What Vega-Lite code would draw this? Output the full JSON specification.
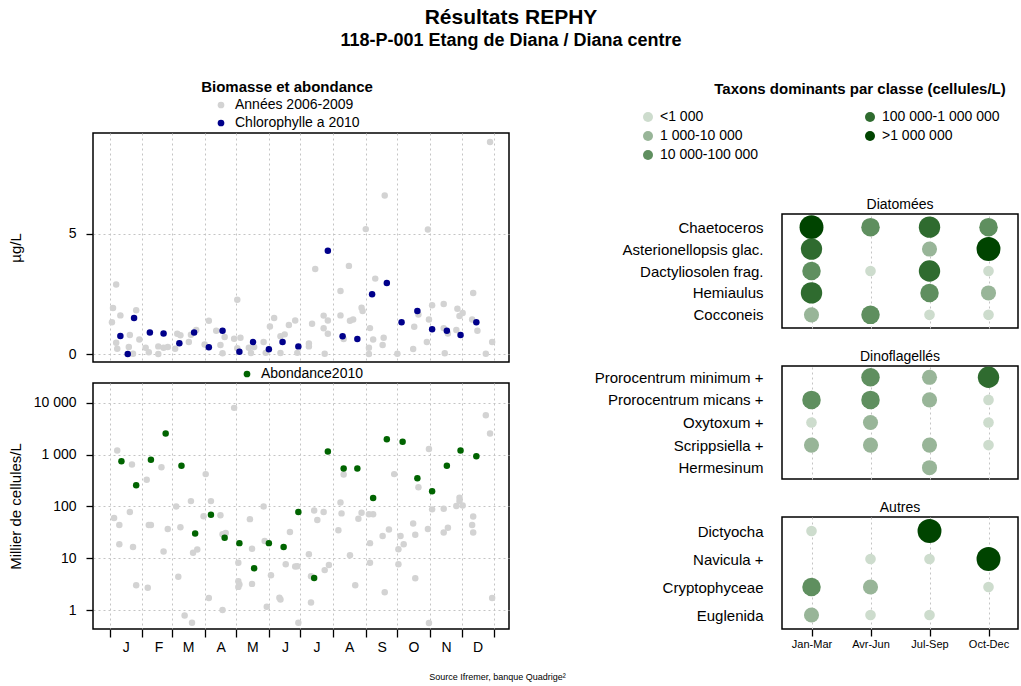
{
"$schema": "https://vega.github.io/schema/vega-lite/v6.json",
"background": "white",
"padding": {"left": 7, "top": 7, "right": 2, "bottom": 2},
"config": {
 "font": "Liberation Sans",
 "view": {"stroke": "black", "strokeWidth": 1.5},
 "axis": {"domain": false, "gridColor": "#c4c4c4", "gridDash": [2,3], "gridWidth": 1, "tickColor": "black", "tickWidth": 1.3, "labelColor": "black", "titleColor": "black", "labelFont": "Liberation Sans", "titleFont": "Liberation Sans", "titleFontWeight": "normal", "labelFontSize": 14, "titleFontSize": 15},
 "legend": {"labelFont": "Liberation Sans", "labelColor": "black", "labelFontSize": 14, "padding": 0},
 "title": {"font": "Liberation Sans", "color": "black", "subtitleFont": "Liberation Sans", "subtitleColor": "black"}
},
"datasets": {
 "chl": [
  {"j":6,"v":2.9,"s":"Années 2006-2009"},{"j":3,"v":1.92,"s":"Années 2006-2009"},{"j":2,"v":1.32,"s":"Années 2006-2009"},{"j":10,"v":1.61,"s":"Années 2006-2009"},{"j":6,"v":0.47,"s":"Années 2006-2009"},{"j":7,"v":0.22,"s":"Années 2006-2009"},{"j":18,"v":0.29,"s":"Années 2006-2009"},{"j":19,"v":0.79,"s":"Années 2006-2009"},{"j":22,"v":0.01,"s":"Années 2006-2009"},{"j":25,"v":1.82,"s":"Années 2006-2009"},{"j":28,"v":0.61,"s":"Années 2006-2009"},{"j":34,"v":0.26,"s":"Années 2006-2009"},{"j":37,"v":0.08,"s":"Années 2006-2009"},{"j":46,"v":0.32,"s":"Années 2006-2009"},{"j":46,"v":0,"s":"Années 2006-2009"},{"j":51,"v":0.26,"s":"Années 2006-2009"},{"j":55,"v":0.29,"s":"Années 2006-2009"},{"j":62,"v":0.22,"s":"Années 2006-2009"},{"j":64,"v":0.85,"s":"Années 2006-2009"},{"j":67,"v":0.78,"s":"Années 2006-2009"},{"j":75,"v":0.5,"s":"Années 2006-2009"},{"j":77,"v":0.8,"s":"Années 2006-2009"},{"j":82,"v":1.0,"s":"Années 2006-2009"},{"j":90,"v":0.4,"s":"Années 2006-2009"},{"j":94,"v":1.39,"s":"Années 2006-2009"},{"j":101,"v":0.97,"s":"Années 2006-2009"},{"j":105,"v":0.38,"s":"Années 2006-2009"},{"j":107,"v":0.03,"s":"Années 2006-2009"},{"j":109,"v":0.71,"s":"Années 2006-2009"},{"j":118,"v":0.64,"s":"Années 2006-2009"},{"j":121,"v":2.26,"s":"Années 2006-2009"},{"j":124,"v":0.68,"s":"Années 2006-2009"},{"j":121,"v":0.24,"s":"Années 2006-2009"},{"j":132,"v":0.26,"s":"Années 2006-2009"},{"j":134,"v":0.04,"s":"Années 2006-2009"},{"j":137,"v":0.29,"s":"Années 2006-2009"},{"j":146,"v":0.5,"s":"Années 2006-2009"},{"j":148,"v":0.05,"s":"Années 2006-2009"},{"j":152,"v":1.15,"s":"Années 2006-2009"},{"j":156,"v":1.5,"s":"Années 2006-2009"},{"j":162,"v":0.74,"s":"Années 2006-2009"},{"j":166,"v":0.82,"s":"Années 2006-2009"},{"j":162,"v":0.04,"s":"Années 2006-2009"},{"j":170,"v":1.21,"s":"Années 2006-2009"},{"j":176,"v":1.4,"s":"Années 2006-2009"},{"j":178,"v":0.05,"s":"Années 2006-2009"},{"j":189,"v":0.44,"s":"Années 2006-2009"},{"j":189,"v":0.32,"s":"Années 2006-2009"},{"j":192,"v":1.26,"s":"Années 2006-2009"},{"j":195,"v":3.54,"s":"Années 2006-2009"},{"j":203,"v":1.6,"s":"Années 2006-2009"},{"j":207,"v":1.4,"s":"Années 2006-2009"},{"j":203,"v":1.07,"s":"Années 2006-2009"},{"j":207,"v":0.85,"s":"Années 2006-2009"},{"j":204,"v":0.01,"s":"Années 2006-2009"},{"j":219,"v":2.62,"s":"Années 2006-2009"},{"j":219,"v":1.61,"s":"Années 2006-2009"},{"j":222,"v":0.63,"s":"Années 2006-2009"},{"j":228,"v":1.39,"s":"Années 2006-2009"},{"j":227,"v":3.67,"s":"Années 2006-2009"},{"j":231,"v":1.44,"s":"Années 2006-2009"},{"j":239,"v":1.93,"s":"Années 2006-2009"},{"j":240,"v":1.79,"s":"Années 2006-2009"},{"j":243,"v":5.2,"s":"Années 2006-2009"},{"j":247,"v":1.08,"s":"Années 2006-2009"},{"j":246,"v":0.26,"s":"Années 2006-2009"},{"j":246,"v":0,"s":"Années 2006-2009"},{"j":250,"v":0.61,"s":"Années 2006-2009"},{"j":252,"v":3.14,"s":"Années 2006-2009"},{"j":260,"v":0.68,"s":"Années 2006-2009"},{"j":259,"v":0.38,"s":"Années 2006-2009"},{"j":261,"v":6.6,"s":"Années 2006-2009"},{"j":273,"v":0.01,"s":"Années 2006-2009"},{"j":288,"v":0.21,"s":"Années 2006-2009"},{"j":289,"v":1.14,"s":"Années 2006-2009"},{"j":293,"v":1.65,"s":"Années 2006-2009"},{"j":302,"v":5.18,"s":"Années 2006-2009"},{"j":303,"v":1.44,"s":"Années 2006-2009"},{"j":301,"v":0.5,"s":"Années 2006-2009"},{"j":306,"v":2.03,"s":"Années 2006-2009"},{"j":317,"v":2.08,"s":"Années 2006-2009"},{"j":317,"v":1.08,"s":"Années 2006-2009"},{"j":321,"v":0.86,"s":"Années 2006-2009"},{"j":318,"v":0.03,"s":"Années 2006-2009"},{"j":330,"v":1.89,"s":"Années 2006-2009"},{"j":332,"v":1.58,"s":"Années 2006-2009"},{"j":335,"v":1.71,"s":"Années 2006-2009"},{"j":329,"v":1.0,"s":"Années 2006-2009"},{"j":345,"v":2.54,"s":"Années 2006-2009"},{"j":344,"v":1.44,"s":"Années 2006-2009"},{"j":349,"v":0.97,"s":"Années 2006-2009"},{"j":357,"v":0.01,"s":"Années 2006-2009"},{"j":361,"v":8.83,"s":"Années 2006-2009"},{"j":363,"v":0.5,"s":"Années 2006-2009"},
  {"j":10,"v":0.75,"s":"Chlorophylle a 2010"},{"j":17,"v":0.0,"s":"Chlorophylle a 2010"},{"j":23,"v":1.5,"s":"Chlorophylle a 2010"},{"j":38,"v":0.9,"s":"Chlorophylle a 2010"},{"j":51,"v":0.86,"s":"Chlorophylle a 2010"},{"j":66,"v":0.45,"s":"Chlorophylle a 2010"},{"j":80,"v":0.9,"s":"Chlorophylle a 2010"},{"j":94,"v":0.28,"s":"Chlorophylle a 2010"},{"j":107,"v":0.97,"s":"Chlorophylle a 2010"},{"j":123,"v":0.1,"s":"Chlorophylle a 2010"},{"j":136,"v":0.5,"s":"Chlorophylle a 2010"},{"j":151,"v":0.2,"s":"Chlorophylle a 2010"},{"j":164,"v":0.5,"s":"Chlorophylle a 2010"},{"j":179,"v":0.32,"s":"Chlorophylle a 2010"},{"j":207,"v":4.3,"s":"Chlorophylle a 2010"},{"j":221,"v":0.74,"s":"Chlorophylle a 2010"},{"j":235,"v":0.63,"s":"Chlorophylle a 2010"},{"j":249,"v":2.49,"s":"Chlorophylle a 2010"},{"j":263,"v":2.96,"s":"Chlorophylle a 2010"},{"j":277,"v":1.32,"s":"Chlorophylle a 2010"},{"j":292,"v":1.79,"s":"Chlorophylle a 2010"},{"j":306,"v":1.03,"s":"Chlorophylle a 2010"},{"j":320,"v":0.97,"s":"Chlorophylle a 2010"},{"j":333,"v":0.79,"s":"Chlorophylle a 2010"},{"j":348,"v":1.32,"s":"Chlorophylle a 2010"}
 ],
 "abd": [
  {"j":7,"v":1210,"s":"Années 2006-2009"},{"j":4,"v":60,"s":"Années 2006-2009"},{"j":9,"v":44,"s":"Années 2006-2009"},{"j":9,"v":18.6,"s":"Années 2006-2009"},{"j":19,"v":78,"s":"Années 2006-2009"},{"j":21,"v":650,"s":"Années 2006-2009"},{"j":22,"v":16.5,"s":"Années 2006-2009"},{"j":25,"v":3.0,"s":"Années 2006-2009"},{"j":35,"v":330,"s":"Années 2006-2009"},{"j":36,"v":2.7,"s":"Années 2006-2009"},{"j":37,"v":44,"s":"Années 2006-2009"},{"j":39,"v":44,"s":"Années 2006-2009"},{"j":49,"v":575,"s":"Années 2006-2009"},{"j":51,"v":13.5,"s":"Années 2006-2009"},{"j":55,"v":36.6,"s":"Années 2006-2009"},{"j":63,"v":100,"s":"Années 2006-2009"},{"j":65,"v":4.4,"s":"Années 2006-2009"},{"j":67,"v":39.6,"s":"Années 2006-2009"},{"j":71,"v":0.78,"s":"Années 2006-2009"},{"j":77,"v":127,"s":"Années 2006-2009"},{"j":78,"v":0.57,"s":"Années 2006-2009"},{"j":79,"v":12.8,"s":"Années 2006-2009"},{"j":83,"v":14.8,"s":"Années 2006-2009"},{"j":89,"v":65,"s":"Années 2006-2009"},{"j":91,"v":422,"s":"Années 2006-2009"},{"j":94,"v":1.7,"s":"Années 2006-2009"},{"j":96,"v":127,"s":"Années 2006-2009"},{"j":105,"v":68,"s":"Années 2006-2009"},{"j":107,"v":1.0,"s":"Années 2006-2009"},{"j":107,"v":29,"s":"Années 2006-2009"},{"j":110,"v":30.8,"s":"Années 2006-2009"},{"j":118,"v":8040,"s":"Années 2006-2009"},{"j":122,"v":8.2,"s":"Années 2006-2009"},{"j":122,"v":3.6,"s":"Années 2006-2009"},{"j":122,"v":2.8,"s":"Années 2006-2009"},{"j":123,"v":3.1,"s":"Années 2006-2009"},{"j":133,"v":57,"s":"Années 2006-2009"},{"j":135,"v":15.2,"s":"Années 2006-2009"},{"j":135,"v":3.2,"s":"Années 2006-2009"},{"j":146,"v":100,"s":"Années 2006-2009"},{"j":147,"v":21.5,"s":"Années 2006-2009"},{"j":149,"v":1.16,"s":"Années 2006-2009"},{"j":153,"v":4.7,"s":"Années 2006-2009"},{"j":161,"v":1.73,"s":"Années 2006-2009"},{"j":162,"v":1.6,"s":"Années 2006-2009"},{"j":167,"v":7.7,"s":"Années 2006-2009"},{"j":171,"v":32,"s":"Années 2006-2009"},{"j":176,"v":6.9,"s":"Années 2006-2009"},{"j":178,"v":7.0,"s":"Années 2006-2009"},{"j":179,"v":0.57,"s":"Années 2006-2009"},{"j":189,"v":12,"s":"Années 2006-2009"},{"j":191,"v":4.5,"s":"Années 2006-2009"},{"j":191,"v":1.4,"s":"Années 2006-2009"},{"j":194,"v":84,"s":"Années 2006-2009"},{"j":197,"v":54.6,"s":"Années 2006-2009"},{"j":203,"v":78,"s":"Années 2006-2009"},{"j":204,"v":5.9,"s":"Années 2006-2009"},{"j":208,"v":7.4,"s":"Années 2006-2009"},{"j":217,"v":34.6,"s":"Années 2006-2009"},{"j":219,"v":120,"s":"Années 2006-2009"},{"j":220,"v":73.6,"s":"Années 2006-2009"},{"j":222,"v":415,"s":"Années 2006-2009"},{"j":228,"v":11.4,"s":"Années 2006-2009"},{"j":233,"v":3.0,"s":"Années 2006-2009"},{"j":236,"v":58,"s":"Années 2006-2009"},{"j":239,"v":75.5,"s":"Années 2006-2009"},{"j":246,"v":70.5,"s":"Années 2006-2009"},{"j":247,"v":19.6,"s":"Années 2006-2009"},{"j":247,"v":8.2,"s":"Années 2006-2009"},{"j":250,"v":70.5,"s":"Années 2006-2009"},{"j":259,"v":26.8,"s":"Années 2006-2009"},{"j":261,"v":2.2,"s":"Années 2006-2009"},{"j":265,"v":36,"s":"Années 2006-2009"},{"j":270,"v":422,"s":"Années 2006-2009"},{"j":274,"v":15,"s":"Années 2006-2009"},{"j":276,"v":26.8,"s":"Années 2006-2009"},{"j":279,"v":18.6,"s":"Années 2006-2009"},{"j":274,"v":7.7,"s":"Années 2006-2009"},{"j":288,"v":47,"s":"Années 2006-2009"},{"j":290,"v":28.5,"s":"Années 2006-2009"},{"j":290,"v":4.1,"s":"Années 2006-2009"},{"j":293,"v":236,"s":"Années 2006-2009"},{"j":302,"v":36.6,"s":"Années 2006-2009"},{"j":303,"v":0.56,"s":"Années 2006-2009"},{"j":303,"v":1290,"s":"Années 2006-2009"},{"j":306,"v":88,"s":"Années 2006-2009"},{"j":317,"v":90,"s":"Années 2006-2009"},{"j":317,"v":31.6,"s":"Années 2006-2009"},{"j":321,"v":38.8,"s":"Années 2006-2009"},{"j":329,"v":102,"s":"Années 2006-2009"},{"j":332,"v":127,"s":"Années 2006-2009"},{"j":332,"v":147,"s":"Années 2006-2009"},{"j":335,"v":105,"s":"Années 2006-2009"},{"j":344,"v":44,"s":"Années 2006-2009"},{"j":345,"v":64,"s":"Années 2006-2009"},{"j":345,"v":31.6,"s":"Années 2006-2009"},{"j":357,"v":5800,"s":"Années 2006-2009"},{"j":361,"v":2570,"s":"Années 2006-2009"},{"j":363,"v":1.7,"s":"Années 2006-2009"},
  {"j":11,"v":752,"s":"Abondance2010"},{"j":25,"v":256,"s":"Abondance2010"},{"j":39,"v":797,"s":"Abondance2010"},{"j":53,"v":2570,"s":"Abondance2010"},{"j":68,"v":613,"s":"Abondance2010"},{"j":81,"v":30,"s":"Abondance2010"},{"j":96,"v":69,"s":"Abondance2010"},{"j":109,"v":25,"s":"Abondance2010"},{"j":123,"v":19.6,"s":"Abondance2010"},{"j":137,"v":6.4,"s":"Abondance2010"},{"j":151,"v":19.6,"s":"Abondance2010"},{"j":165,"v":16.5,"s":"Abondance2010"},{"j":179,"v":78,"s":"Abondance2010"},{"j":194,"v":4.15,"s":"Abondance2010"},{"j":207,"v":1150,"s":"Abondance2010"},{"j":222,"v":543,"s":"Abondance2010"},{"j":235,"v":543,"s":"Abondance2010"},{"j":250,"v":146,"s":"Abondance2010"},{"j":263,"v":2000,"s":"Abondance2010"},{"j":278,"v":1780,"s":"Abondance2010"},{"j":292,"v":350,"s":"Abondance2010"},{"j":306,"v":198,"s":"Abondance2010"},{"j":320,"v":613,"s":"Abondance2010"},{"j":333,"v":1210,"s":"Abondance2010"},{"j":348,"v":936,"s":"Abondance2010"}
 ],
 "tax": [
  {"g":"Diatomées","t":"Chaetoceros","p":"Jan-Mar","c":">1 000 000"},
  {"g":"Diatomées","t":"Chaetoceros","p":"Avr-Jun","c":"10 000-100 000"},
  {"g":"Diatomées","t":"Chaetoceros","p":"Jul-Sep","c":"100 000-1 000 000"},
  {"g":"Diatomées","t":"Chaetoceros","p":"Oct-Dec","c":"10 000-100 000"},
  {"g":"Diatomées","t":"Asterionellopsis glac.","p":"Jan-Mar","c":"100 000-1 000 000"},
  {"g":"Diatomées","t":"Asterionellopsis glac.","p":"Jul-Sep","c":"1 000-10 000"},
  {"g":"Diatomées","t":"Asterionellopsis glac.","p":"Oct-Dec","c":">1 000 000"},
  {"g":"Diatomées","t":"Dactyliosolen frag.","p":"Jan-Mar","c":"10 000-100 000"},
  {"g":"Diatomées","t":"Dactyliosolen frag.","p":"Avr-Jun","c":"<1 000"},
  {"g":"Diatomées","t":"Dactyliosolen frag.","p":"Jul-Sep","c":"100 000-1 000 000"},
  {"g":"Diatomées","t":"Dactyliosolen frag.","p":"Oct-Dec","c":"<1 000"},
  {"g":"Diatomées","t":"Hemiaulus","p":"Jan-Mar","c":"100 000-1 000 000"},
  {"g":"Diatomées","t":"Hemiaulus","p":"Jul-Sep","c":"10 000-100 000"},
  {"g":"Diatomées","t":"Hemiaulus","p":"Oct-Dec","c":"1 000-10 000"},
  {"g":"Diatomées","t":"Cocconeis","p":"Jan-Mar","c":"1 000-10 000"},
  {"g":"Diatomées","t":"Cocconeis","p":"Avr-Jun","c":"10 000-100 000"},
  {"g":"Diatomées","t":"Cocconeis","p":"Jul-Sep","c":"<1 000"},
  {"g":"Diatomées","t":"Cocconeis","p":"Oct-Dec","c":"<1 000"},
  {"g":"Dinoflagellés","t":"Prorocentrum minimum +","p":"Avr-Jun","c":"10 000-100 000"},
  {"g":"Dinoflagellés","t":"Prorocentrum minimum +","p":"Jul-Sep","c":"1 000-10 000"},
  {"g":"Dinoflagellés","t":"Prorocentrum minimum +","p":"Oct-Dec","c":"100 000-1 000 000"},
  {"g":"Dinoflagellés","t":"Prorocentrum micans +","p":"Jan-Mar","c":"10 000-100 000"},
  {"g":"Dinoflagellés","t":"Prorocentrum micans +","p":"Avr-Jun","c":"10 000-100 000"},
  {"g":"Dinoflagellés","t":"Prorocentrum micans +","p":"Jul-Sep","c":"1 000-10 000"},
  {"g":"Dinoflagellés","t":"Prorocentrum micans +","p":"Oct-Dec","c":"<1 000"},
  {"g":"Dinoflagellés","t":"Oxytoxum +","p":"Jan-Mar","c":"<1 000"},
  {"g":"Dinoflagellés","t":"Oxytoxum +","p":"Avr-Jun","c":"1 000-10 000"},
  {"g":"Dinoflagellés","t":"Oxytoxum +","p":"Oct-Dec","c":"<1 000"},
  {"g":"Dinoflagellés","t":"Scrippsiella +","p":"Jan-Mar","c":"1 000-10 000"},
  {"g":"Dinoflagellés","t":"Scrippsiella +","p":"Avr-Jun","c":"1 000-10 000"},
  {"g":"Dinoflagellés","t":"Scrippsiella +","p":"Jul-Sep","c":"1 000-10 000"},
  {"g":"Dinoflagellés","t":"Scrippsiella +","p":"Oct-Dec","c":"<1 000"},
  {"g":"Dinoflagellés","t":"Hermesinum","p":"Jul-Sep","c":"1 000-10 000"},
  {"g":"Autres","t":"Dictyocha","p":"Jan-Mar","c":"<1 000"},
  {"g":"Autres","t":"Dictyocha","p":"Jul-Sep","c":">1 000 000"},
  {"g":"Autres","t":"Navicula +","p":"Avr-Jun","c":"<1 000"},
  {"g":"Autres","t":"Navicula +","p":"Jul-Sep","c":"<1 000"},
  {"g":"Autres","t":"Navicula +","p":"Oct-Dec","c":">1 000 000"},
  {"g":"Autres","t":"Cryptophyceae","p":"Jan-Mar","c":"10 000-100 000"},
  {"g":"Autres","t":"Cryptophyceae","p":"Avr-Jun","c":"1 000-10 000"},
  {"g":"Autres","t":"Cryptophyceae","p":"Oct-Dec","c":"<1 000"},
  {"g":"Autres","t":"Euglenida","p":"Jan-Mar","c":"1 000-10 000"},
  {"g":"Autres","t":"Euglenida","p":"Avr-Jun","c":"<1 000"},
  {"g":"Autres","t":"Euglenida","p":"Jul-Sep","c":"<1 000"}
 ]
},
"title": {"text": "Résultats REPHY", "subtitle": "118-P-001 Etang de Diana / Diana centre", "fontSize": 21, "fontWeight": "bold", "subtitleFontSize": 18, "subtitleFontWeight": "bold", "subtitlePadding": 4, "anchor": "middle", "dx": -2, "offset": 29},
"spacing": 26,
"resolve": {"scale": {"x": "independent", "y": "independent", "color": "independent", "size": "independent"}},
"hconcat": [
 {
  "vconcat": [
   {
    "width": 416, "height": 229,
    "data": {"name": "chl"},
    "title": {"text": "Biomasse et abondance", "fontSize": 15, "fontWeight": "bold", "anchor": "middle", "dx": -14, "offset": 3},
    "mark": {"type": "point", "filled": true, "size": 42, "opacity": 1},
    "encoding": {
     "x": {"field": "j", "type": "quantitative", "scale": {"domain": [-16, 379], "nice": false, "zero": false},
       "axis": {"values": [0,31,59,90,120,151,181,212,243,273,304,334,365], "labels": false, "ticks": false, "grid": true, "title": null}},
     "y": {"field": "v", "type": "quantitative", "scale": {"domain": [-0.33, 9.2], "nice": false, "zero": false},
       "axis": {"values": [0,5], "grid": true, "tickSize": 7, "labelPadding": 10, "title": "µg/L", "titleX": -70}},
     "color": {"field": "s", "type": "nominal", "scale": {"domain": ["Années 2006-2009", "Chlorophylle a 2010"], "range": ["#d3d3d3", "#00008b"]},
       "legend": {"orient": "none", "legendX": 121, "legendY": -35, "title": null, "symbolType": "circle", "symbolSize": 45, "labelOffset": 7, "rowPadding": 4}}
    }
   },
   {
    "width": 416, "height": 246,
    "data": {"name": "abd"},
    "mark": {"type": "point", "filled": true, "size": 42, "opacity": 1},
    "encoding": {
     "x": {"field": "j", "type": "quantitative", "scale": {"domain": [-16, 379], "nice": false, "zero": false},
       "axis": {"values": [0,31,59,90,120,151,181,212,243,273,304,334,365], "grid": true, "tickSize": 8, "labelOffset": 16, "labelPadding": 3, "labelFlush": false, "labelOverlap": false, "labelBound": false,
         "labelExpr": "datum.value < 31 ? 'J' : datum.value < 59 ? 'F' : datum.value < 90 ? 'M' : datum.value < 120 ? 'A' : datum.value < 151 ? 'M' : datum.value < 181 ? 'J' : datum.value < 212 ? 'J' : datum.value < 243 ? 'A' : datum.value < 273 ? 'S' : datum.value < 304 ? 'O' : datum.value < 334 ? 'N' : datum.value < 365 ? 'D' : ''",
         "title": "Source Ifremer, banque Quadrige²", "titleFontSize": 9, "titleX": 404, "titleY": 43}},
     "y": {"field": "v", "type": "quantitative", "scale": {"type": "log", "domain": [0.43, 24300], "nice": false},
       "axis": {"values": [1,10,100,1000,10000], "grid": true, "tickSize": 7, "labelPadding": 10,
         "labelExpr": "datum.value >= 1000 ? format(datum.value/1000, 'd') + ' 000' : format(datum.value, 'd')",
         "title": "Millier de cellules/L", "titleX": -70}},
     "color": {"field": "s", "type": "nominal", "scale": {"domain": ["Années 2006-2009", "Abondance2010"], "range": ["#d3d3d3", "#006400"]},
       "legend": {"orient": "none", "legendX": 147, "legendY": -16, "values": ["Abondance2010"], "title": null, "symbolType": "circle", "symbolSize": 45, "labelOffset": 7}}
    }
   }
  ],
  "spacing": 21,
  "bounds": "flush",
  "resolve": {"scale": {"x": "independent", "y": "independent", "color": "independent"}}
 },
 {
  "vconcat": [
   {
    "width": 236, "height": 43,
    "view": {"stroke": null},
    "data": {"name": "tax"},
    "transform": [{"filter": "false"}],
    "title": {"text": "Taxons dominants par classe (cellules/L)", "fontSize": 15, "fontWeight": "bold", "anchor": "middle", "dx": -40, "offset": 13},
    "mark": {"type": "circle", "opacity": 1},
    "encoding": {
     "color": {"field": "c", "type": "ordinal", "scale": {"domain": ["<1 000","1 000-10 000","10 000-100 000","100 000-1 000 000",">1 000 000"], "range": ["#cddccd","#98b598","#5f8f5f","#2f6b2f","#004400"]},
       "legend": {"orient": "none", "legendX": -141, "legendY": -23, "columns": 2, "columnPadding": 104, "rowPadding": 5, "title": null, "symbolType": "circle", "labelOffset": 5,
         "values": ["<1 000","1 000-10 000","10 000-100 000","100 000-1 000 000",">1 000 000"],
         "encode": {"symbols": {"update": {"size": {"signal": "datum.value == '<1 000' ? 40 : datum.value == '1 000-10 000' ? 64 : datum.value == '10 000-100 000' ? 105 : datum.value == '100 000-1 000 000' ? 120 : 177"}}}}}}
    }
   },
   {
    "width": 236, "height": 114,
    "data": {"name": "tax"},
    "transform": [{"filter": "datum.g == 'Diatomées'"}],
    "title": {"text": "Diatomées", "fontSize": 14, "fontWeight": "normal", "offset": 2},
    "mark": {"type": "circle", "opacity": 1},
    "encoding": {
     "x": {"field": "p", "type": "ordinal", "scale": {"type": "point", "domain": ["Jan-Mar","Avr-Jun","Jul-Sep","Oct-Dec"], "padding": 0.5}, "axis": {"labels": false, "ticks": false, "grid": true, "title": null}},
     "y": {"field": "t", "type": "ordinal", "scale": {"type": "point", "domain": ["Chaetoceros","Asterionellopsis glac.","Dactyliosolen frag.","Hemiaulus","Cocconeis"], "padding": 0.6}, "axis": {"ticks": false, "tickSize": 0, "grid": false, "labelFontSize": 15, "labelPadding": 19, "title": null}},
     "color": {"field": "c", "type": "ordinal", "scale": {"domain": ["<1 000","1 000-10 000","10 000-100 000","100 000-1 000 000",">1 000 000"], "range": ["#cddccd","#98b598","#5f8f5f","#2f6b2f","#004400"]}, "legend": null},
     "size": {"field": "c", "type": "ordinal", "scale": {"domain": ["<1 000","1 000-10 000","10 000-100 000","100 000-1 000 000",">1 000 000"], "range": [113,572], "padding": 0}, "legend": null}
    }
   },
   {
    "width": 236, "height": 113,
    "data": {"name": "tax"},
    "transform": [{"filter": "datum.g == 'Dinoflagellés'"}],
    "title": {"text": "Dinoflagellés", "fontSize": 14, "fontWeight": "normal", "offset": 2},
    "mark": {"type": "circle", "opacity": 1},
    "encoding": {
     "x": {"field": "p", "type": "ordinal", "scale": {"type": "point", "domain": ["Jan-Mar","Avr-Jun","Jul-Sep","Oct-Dec"], "padding": 0.5}, "axis": {"labels": false, "ticks": false, "grid": true, "title": null}},
     "y": {"field": "t", "type": "ordinal", "scale": {"type": "point", "domain": ["Prorocentrum minimum +","Prorocentrum micans +","Oxytoxum +","Scrippsiella +","Hermesinum"], "padding": 0.5}, "axis": {"ticks": false, "tickSize": 0, "grid": false, "labelFontSize": 15, "labelPadding": 19, "title": null}},
     "color": {"field": "c", "type": "ordinal", "scale": {"domain": ["<1 000","1 000-10 000","10 000-100 000","100 000-1 000 000",">1 000 000"], "range": ["#cddccd","#98b598","#5f8f5f","#2f6b2f","#004400"]}, "legend": null},
     "size": {"field": "c", "type": "ordinal", "scale": {"domain": ["<1 000","1 000-10 000","10 000-100 000","100 000-1 000 000",">1 000 000"], "range": [113,572], "padding": 0}, "legend": null}
    }
   },
   {
    "width": 236, "height": 112,
    "data": {"name": "tax"},
    "transform": [{"filter": "datum.g == 'Autres'"}],
    "title": {"text": "Autres", "fontSize": 14, "fontWeight": "normal", "offset": 2},
    "mark": {"type": "circle", "opacity": 1},
    "encoding": {
     "x": {"field": "p", "type": "ordinal", "scale": {"type": "point", "domain": ["Jan-Mar","Avr-Jun","Jul-Sep","Oct-Dec"], "padding": 0.5}, "axis": {"grid": true, "ticks": true, "tickSize": 7, "labelFontSize": 11, "labelPadding": 2, "labelAngle": 0, "title": null}},
     "y": {"field": "t", "type": "ordinal", "scale": {"type": "point", "domain": ["Dictyocha","Navicula +","Cryptophyceae","Euglenida"], "padding": 0.5}, "axis": {"ticks": false, "tickSize": 0, "grid": false, "labelFontSize": 15, "labelPadding": 19, "title": null}},
     "color": {"field": "c", "type": "ordinal", "scale": {"domain": ["<1 000","1 000-10 000","10 000-100 000","100 000-1 000 000",">1 000 000"], "range": ["#cddccd","#98b598","#5f8f5f","#2f6b2f","#004400"]}, "legend": null},
     "size": {"field": "c", "type": "ordinal", "scale": {"domain": ["<1 000","1 000-10 000","10 000-100 000","100 000-1 000 000",">1 000 000"], "range": [113,572], "padding": 0}, "legend": null}
    }
   }
  ],
  "spacing": 38,
  "bounds": "flush",
  "resolve": {"scale": {"x": "independent", "y": "independent", "color": "independent", "size": "independent"}}
 }
]
}
